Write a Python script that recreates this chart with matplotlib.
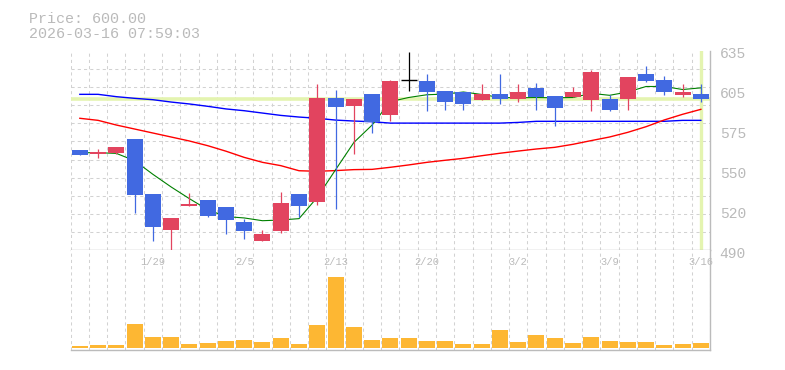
import matplotlib
matplotlib.use('Agg')
import matplotlib.pyplot as plt
import matplotlib.transforms as mtransforms
import numpy as np

# daily OHLC, 1/23 .. 3/16 (35 trading days)
opens = [562.9, 560.2, 560.9, 570.9, 530.9, 505.0, 522.4, 526.5, 521.5, 510.6,
         497.0, 504.3, 530.9, 525.3, 600.6, 595.1, 603.6, 588.5, 613.7, 613.0,
         605.7, 605.0, 599.2, 603.6, 599.9, 607.9, 602.1, 601.4, 599.2, 599.9,
         599.9, 618.1, 613.7, 602.8, 603.6]
highs = [562.9, 563.6, 565.0, 570.9, 530.9, 513.5, 531.6, 526.5, 521.5, 512.7,
         504.5, 532.3, 530.9, 610.6, 606.5, 599.9, 603.6, 613.7, 634.3, 618.1,
         605.7, 605.0, 610.8, 618.1, 610.8, 611.5, 602.1, 608.6, 621.0, 602.8,
         615.9, 623.9, 616.6, 610.8, 610.8]
lows = [559.2, 557.3, 560.2, 517.3, 497.0, 489.7, 522.4, 514.2, 502.1, 498.4,
        497.0, 502.8, 514.2, 523.1, 520.3, 560.2, 575.5, 584.2, 606.0, 591.4,
        592.2, 592.2, 599.2, 596.3, 597.7, 592.2, 580.5, 601.4, 591.4, 591.4,
        592.2, 612.5, 602.8, 601.4, 597.7]
closes = [559.2, 561.4, 565.0, 530.4, 507.2, 513.5, 523.6, 515.2, 512.2, 504.0,
          501.8, 524.3, 522.4, 600.6, 594.4, 599.9, 583.2, 613.0, 613.7, 605.2,
          598.0, 596.3, 603.6, 599.9, 605.0, 601.4, 593.6, 605.0, 619.5, 592.2,
          615.9, 613.2, 605.2, 605.0, 600.0]
volumes = [6, 9, 9, 72, 33, 33, 12, 15, 21, 24,
           18, 30, 12, 69, 213, 63, 24, 30, 30, 21,
           21, 12, 12, 54, 18, 39, 30, 15, 33, 21,
           18, 18, 9, 12, 15]

# moving averages as drawn (5 / 25 / 75 day)
ma5 = [560.9, 560.9, 560.4, 555.1, 545.2, 536.0, 527.5, 519.5, 514.5, 513.5,
       511.5, 512.0, 513.0, 528.5, 548.5, 568.3, 581.0, 598.0, 601.0, 603.0,
       603.5, 605.0, 603.2, 601.0, 600.8, 601.0, 600.8, 601.0, 604.0, 602.6,
       605.0, 609.0, 609.0, 606.8, 608.0]
ma25 = [585.9, 584.4, 581.0, 578.1, 575.2, 572.3, 569.4, 566.0, 562.0, 557.5,
        553.9, 551.5, 547.8, 547.4, 547.9, 548.6, 548.8, 550.3, 552.0, 553.9,
        555.4, 556.8, 558.7, 560.5, 562.1, 563.6, 564.8, 567.0, 569.7, 572.3,
        575.7, 579.8, 584.7, 588.8, 592.4]
ma75 = [603.3, 603.3, 601.6, 600.4, 599.4, 597.7, 596.3, 594.6, 592.7, 591.4,
        589.7, 588.0, 586.8, 585.9, 584.6, 583.9, 583.4, 582.4, 582.4, 582.4,
        582.4, 582.4, 582.4, 582.4, 582.9, 583.7, 583.7, 583.7, 583.7, 583.7,
        583.7, 583.7, 583.7, 584.4, 584.4]

tick_idx = [4, 9, 14, 19, 24, 29, 34]
tick_labels = ['1/29', '2/5', '2/13', '2/20', '3/2', '3/9', '3/16']
y_ticks = [490, 519, 548, 577, 606, 635]
y_labels = ['490', '520', '550', '575', '605', '635']
last_price = 600.00
timestamp = '2026-03-16 07:59:03'

UP = '#e2445f'
DOWN = '#4169e1'
VOL = '#fdb733'
BAND = '#e4f4b0'
GRID = '#d2d2d2'
EDGE = '#bbbbbb'
TXT = '#bababa'
MONO = 'Liberation Mono'

fig = plt.figure(figsize=(7.85, 3.7), dpi=100)
ax = fig.add_axes([70.7 / 785, 1 - 250.3 / 370, 639.3 / 785, 199.6 / 370])
axv = fig.add_axes([70.7 / 785, 1 - 350 / 370, 639.3 / 785, 99.7 / 370], sharex=ax)

n = len(closes)
x = np.arange(n)
o = np.array(opens)
c = np.array(closes)
flat = c == o
colors = np.where(c > o, UP, np.where(c < o, DOWN, 'black'))

# current price marker
ax.axhline(last_price, color=BAND, lw=2.6, zorder=1)
ax.axvline(x[-1], color=BAND, lw=2.4, zorder=1)

ax.plot(x, ma75, color='#0000ff', lw=1.0, zorder=2)
ax.plot(x, ma25, color='#ff0000', lw=1.0, zorder=2)
ax.plot(x, ma5, color='#008000', lw=0.8, zorder=2)

# candles
ax.vlines(x, lows, highs, colors=colors, lw=0.9, zorder=3)
body_lo = np.minimum(o, c)
body_h = np.maximum(np.abs(c - o), 1.0)
ax.bar(x[~flat], body_h[~flat], bottom=body_lo[~flat], width=0.875,
       color=colors[~flat], lw=0, zorder=4)
ax.hlines(o[flat], x[flat] - 0.4375, x[flat] + 0.4375, colors='black', lw=1.0, zorder=4)

ax.set_xlim(-0.5, n - 0.5)
ax.set_ylim(490, 635)

axv.bar(x, volumes, width=0.875, color=VOL, lw=0, zorder=2)
axv.set_ylim(-6, 293)

# dashed grid on cell boundaries
grid_x = np.arange(-0.5, n, 1.0)
for a in (ax, axv):
    a.set_xticks(grid_x, minor=True)
    a.set_xticks([])
    a.grid(True, which='minor', axis='x', color=GRID, lw=0.75, ls=(0, (3, 3)), zorder=0)
    a.tick_params(which='both', length=0)
    a.tick_params(axis='x', which='both', labelbottom=False)
    for s in ('top', 'left'):
        a.spines[s].set_visible(False)
    for s in ('bottom', 'right'):
        a.spines[s].set_color(EDGE)
        a.spines[s].set_linewidth(1.0)
    a.set_axisbelow(True)

ax.set_yticks(np.linspace(490, 635, 12), minor=True)
ax.grid(True, which='minor', axis='y', color=GRID, lw=0.75, ls=(0, (3, 3)), zorder=0)
ax.yaxis.tick_right()
ax.set_yticks(y_ticks)
ax.set_yticklabels(y_labels, family=MONO, fontsize=10.5, color=TXT)
ax.tick_params(axis='y', which='major', length=0, pad=7)
# labels sit a couple of pixels below their tick
shift = mtransforms.ScaledTranslation(0, -2 / 100, fig.dpi_scale_trans)
for lbl in ax.get_yticklabels():
    lbl.set_transform(lbl.get_transform() + shift)
axv.set_yticks([])

trans = mtransforms.blended_transform_factory(axv.transData, axv.transAxes)
for i, lab in zip(tick_idx, tick_labels):
    axv.text(i, 0.88, lab, transform=trans, ha='center', va='center',
             fontsize=7.5, family=MONO, color=TXT, zorder=3)

fig.text(29 / 785, 1 - 22.7 / 370, f'Price: {last_price:.2f}', family=MONO,
         fontsize=10.8, color=TXT, va='baseline')
fig.text(29 / 785, 1 - 37.7 / 370, timestamp, family=MONO,
         fontsize=10.8, color=TXT, va='baseline')

fig.savefig('out.png', dpi=100)
